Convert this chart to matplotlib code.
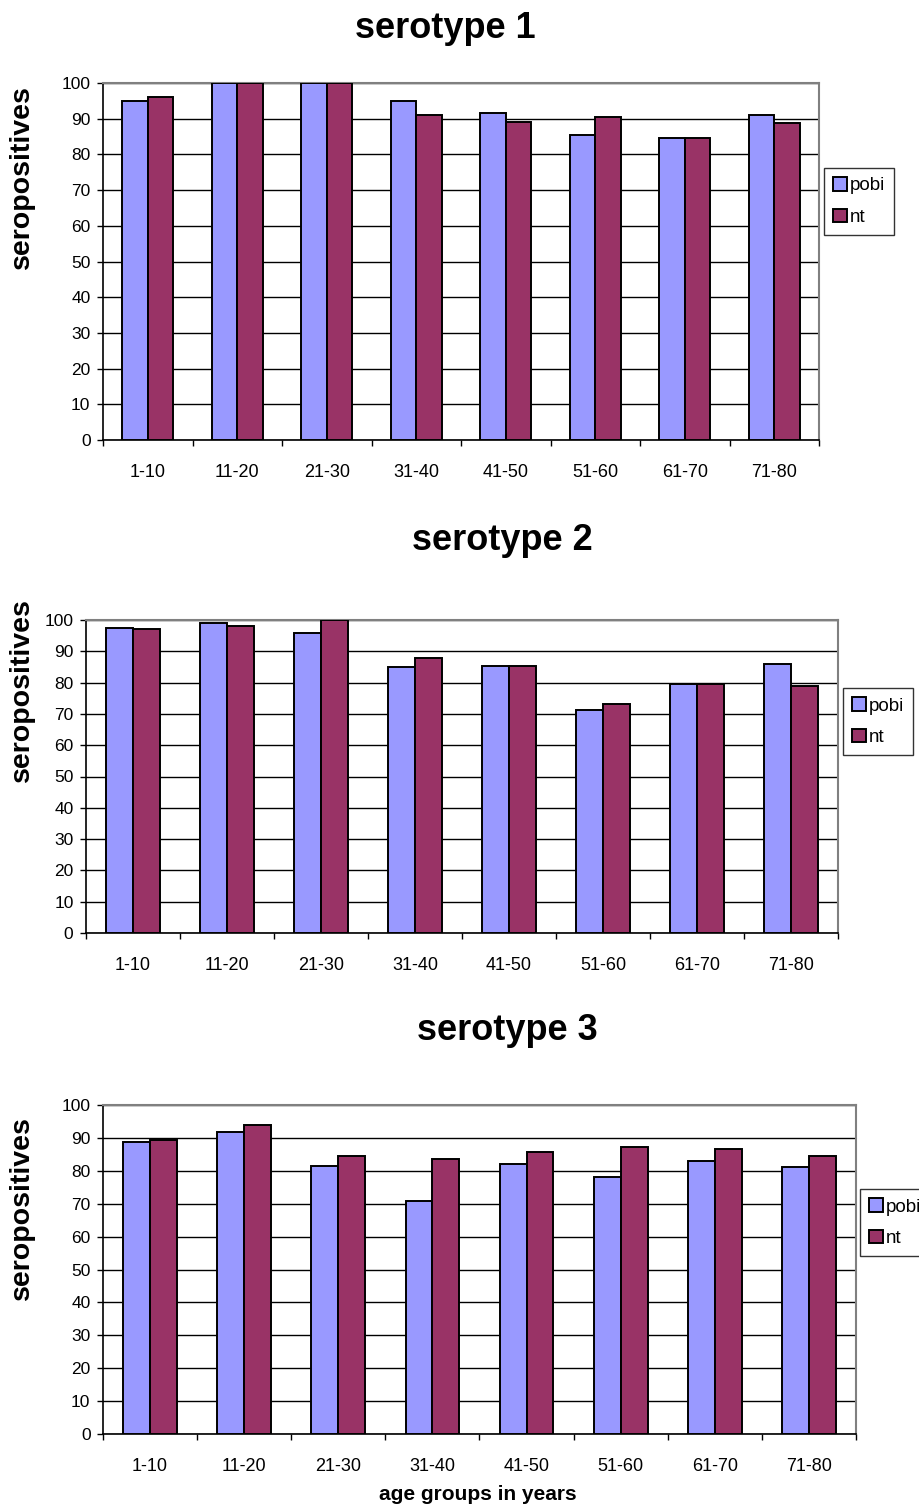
import numpy as np
import matplotlib
matplotlib.use('Agg')
import matplotlib.pyplot as plt

plt.rcParams['font.family'] = ['Liberation Sans', 'DejaVu Sans']

# age groups and seropositive counts per serotype
age_groups = ['1-10', '11-20', '21-30', '31-40', '41-50', '51-60', '61-70', '71-80']

pobi_1 = [95, 100, 100, 95, 91.5, 85.4, 84.6, 91.1]
nt_1 = [96, 100, 100, 91, 89, 90.6, 84.6, 88.7]

pobi_2 = [97.4, 99, 96, 84.9, 85.4, 71.1, 79.6, 86]
nt_2 = [97, 98, 100, 88, 85.4, 73.3, 79.6, 79]

pobi_3 = [88.9, 91.8, 81.5, 70.9, 82, 78, 83, 81.2]
nt_3 = [89.3, 93.9, 84.5, 83.5, 85.8, 87.1, 86.6, 84.5]

W, H = 919, 1506
fig = plt.figure(figsize=(W / 100, H / 100), dpi=100)

def px_axes(left, right, top, bottom):
    return fig.add_axes([left / W, 1 - bottom / H, (right - left) / W, (bottom - top) / H])

panels = [
    # title, pobi, nt, axes box (l, r, t, b), legend box (l, t), title xy, ylabel y
    ('serotype 1', pobi_1, nt_1, (103, 819, 83, 440), (824, 168), (445, 28), 177),
    ('serotype 2', pobi_2, nt_2, (86, 838, 620, 933), (843, 688), (502, 541), 690),
    ('serotype 3', pobi_3, nt_3, (103, 856, 1105, 1434), (860, 1189), (507, 1030), 1208),
]

x = np.arange(len(age_groups))
w = 1 / 3.5

for title, pobi, nt, box, leg, tpos, ly in panels:
    ax = px_axes(*box)
    ax.bar(x - w / 2, pobi, w, color='#9999FF', edgecolor='black', linewidth=1.4,
           label='pobi', zorder=3)
    ax.bar(x + w / 2, nt, w, color='#993366', edgecolor='black', linewidth=1.4,
           label='nt', zorder=3)
    ax.set_xlim(-0.5, len(age_groups) - 0.5)
    ax.set_ylim(0, 100)
    ax.set_yticks(range(0, 101, 10))
    ax.yaxis.grid(True, color='black', linewidth=1, zorder=0)
    ax.set_axisbelow(True)

    ax.set_xticks(x)
    ax.set_xticklabels(age_groups)
    ax.set_xticks(np.arange(-0.5, len(age_groups)), minor=True)
    ax.tick_params(axis='x', which='major', length=0, pad=17, labelsize=13)
    ax.tick_params(axis='x', which='minor', length=4, width=1, direction='out')
    ax.tick_params(axis='y', length=4, width=1, pad=5, labelsize=12.5)

    for s in ['top', 'right']:
        ax.spines[s].set_color('#808080')
        ax.spines[s].set_linewidth(1.5)
    for s in ['left', 'bottom']:
        ax.spines[s].set_color('black')
        ax.spines[s].set_linewidth(1.2)

    lx, lt = leg
    ax.legend(loc='upper left', bbox_to_anchor=(lx / W, 1 - lt / H),
              bbox_transform=fig.transFigure, fontsize=13.5, frameon=True, fancybox=False,
              edgecolor='black', borderpad=0.5, handlelength=0.7, handleheight=0.7,
              handletextpad=0.15, labelspacing=0.75, borderaxespad=0)

    fig.text(tpos[0] / W, 1 - tpos[1] / H, title, fontsize=26, fontweight='bold',
             ha='center', va='center')
    fig.text(22 / W, 1 - ly / H, 'seropositives', fontsize=20.5, fontweight='bold',
             rotation=90, ha='center', va='center')

fig.text(478 / W, 1 - 1495 / H, 'age groups in years', fontsize=15, fontweight='bold',
         ha='center', va='center')

fig.savefig('out.png', dpi=100)
